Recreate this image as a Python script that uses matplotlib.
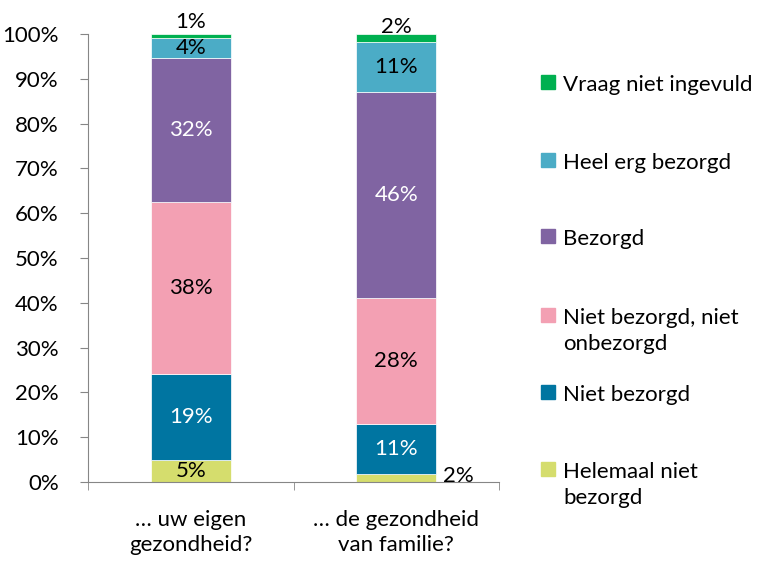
import matplotlib.pyplot as plt
from matplotlib.patches import Rectangle

plt.rcParams['font.family'] = ['Lato', 'DejaVu Sans']

# categorieen en reeksen (van onder naar boven gestapeld)
categories = ['… uw eigen\ngezondheid?', '… de gezondheid\nvan familie?']
series = ['Helemaal niet\nbezorgd', 'Niet bezorgd', 'Niet bezorgd, niet\nonbezorgd',
          'Bezorgd', 'Heel erg bezorgd', 'Vraag niet ingevuld']
values = [
    [4.8, 1.8],
    [19.4, 11.2],
    [38.4, 28.1],
    [32.1, 46.0],
    [4.4, 11.2],
    [0.9, 1.7],
]
labels = [
    ['5%', '2%'],
    ['19%', '11%'],
    ['38%', '28%'],
    ['32%', '46%'],
    ['4%', '11%'],
    ['1%', '2%'],
]
colors = ['#D5DD6D', '#0075A1', '#F3A0B3', '#8064A2', '#4BACC6', '#00B050']
text_colors = ['black', 'white', 'black', 'white', 'black', 'black']

fig = plt.figure(figsize=(7.67, 5.61), dpi=100)
ax = fig.add_axes([88 / 767, 1 - 482 / 561, 411 / 767, 448 / 561])

x = [0, 1]
bottom = [0, 0]
for i, s in enumerate(series):
    ax.bar(x, values[i], width=0.39, bottom=bottom, color=colors[i],
           edgecolor='white', linewidth=0.5)
    for j in x:
        ypos = bottom[j] + values[i][j] / 2
        xpos = j
        # labels die Excel buiten de balk heeft gezet
        if i == 5:
            ypos = 102.7 if j == 0 else 101.5
        if i == 0 and j == 1:
            xpos, ypos = 1.30, 1.3
        ax.text(xpos, ypos, labels[i][j], ha='center', va='center',
                fontsize=16, color=text_colors[i], clip_on=False)
    bottom = [bottom[k] + values[i][k] for k in x]

ax.set_xlim(-0.5, 1.5)
ax.set_ylim(0, 100)
ax.set_yticks(range(0, 101, 10))
ax.set_yticklabels([f'{v}%' for v in range(0, 101, 10)], fontsize=16)
ax.set_xticks(x)
ax.set_xticklabels(categories, fontsize=16, linespacing=1.3)
ax.set_xticks([-0.5, 0.5, 1.5], minor=True)
ax.tick_params(axis='x', which='major', length=0, pad=20)
ax.tick_params(axis='x', which='minor', length=6, color='#868686')
ax.tick_params(axis='y', length=6, color='#868686', pad=15)
for side in ['top', 'right']:
    ax.spines[side].set_visible(False)
for side in ['left', 'bottom']:
    ax.spines[side].set_color('#868686')

# legenda, handmatig zoals in Excel (bovenste reeks eerst)
leg_y = [82, 160, 236, 315, 392, 469]
for k, i in enumerate(reversed(range(len(series)))):
    yc = leg_y[k]
    fig.patches.append(Rectangle((541 / 767, 1 - (yc + 7) / 561), 14 / 767, 14 / 561,
                                 transform=fig.transFigure, color=colors[i]))
    fig.text(563 / 767, 1 - (yc - 7) / 561, series[i], ha='left', va='top',
             fontsize=16, linespacing=1.4)

fig.savefig('out.png', dpi=100)
